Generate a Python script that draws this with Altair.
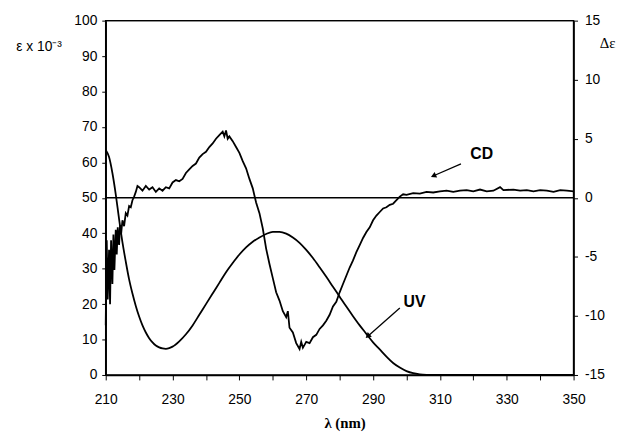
import altair as alt
import pandas as pd

# ---- data ----
uv_nm = [210, 211, 212, 213, 214, 215, 216, 217, 218, 219, 220, 221, 222, 223, 224, 225, 226, 227,
         228, 229, 230, 232, 234, 236, 238, 240, 242, 244, 246, 248, 250, 252, 254, 256, 258, 260,
         262, 264, 266, 268, 270, 272, 274, 276, 278, 280, 282, 284, 286, 288, 290, 292, 294, 296,
         298, 300, 302, 304, 306, 308, 320, 335, 350]
uv_eps = [63.5, 61.5, 57, 51, 44, 37.5, 32, 27, 23, 19.5, 16.5, 14, 12, 10.4, 9.2, 8.3, 7.8, 7.5,
          7.4, 7.6, 8.0, 9.5, 11.5, 14, 17, 20, 23, 26, 29, 31.6, 34, 36, 37.6, 38.8, 39.8, 40.4,
          40.4, 39.9, 38.8, 37.3, 35.3, 33, 30.4, 27.7, 24.9, 22.1, 19.3, 16.6, 14, 11.6, 9.2, 7.2,
          5.2, 3.4, 2.1, 1.1, 0.5, 0.2, 0.05, 0, 0, 0, 0]

cd_nm = [210, 210.3, 210.6, 211, 211.3, 211.6, 212, 212.3, 212.6, 213, 213.3, 213.6, 214, 214.3,
         214.6, 215, 215.5, 216, 216.5, 217, 217.5, 218, 218.5, 219, 219.5, 220, 221, 222, 223,
         224, 225, 226, 227, 228, 229, 230, 231, 232, 233, 234, 235, 236, 237, 238, 239, 240,
         241, 242, 243, 244, 245, 245.5, 246, 246.5, 247, 248, 249, 250, 251, 252, 253, 254,
         254.5, 255, 256, 257, 258, 259, 260, 261, 262, 263, 264, 264.5, 265, 266, 267, 268,
         268.5, 269, 270, 271, 272, 273, 274, 275, 276, 277, 278, 279, 280, 281, 282, 283, 284,
         285, 286, 287, 288, 289, 290, 291, 292, 293, 294, 295, 296, 297, 298, 299, 300, 302,
         304, 306, 308, 310, 312, 314, 316, 318, 320, 322, 324, 326, 328, 329, 332, 334, 336,
         338, 340, 342, 344, 346, 348, 350]
cd_de = [-10.8, -3.6, -8.6, -4.4, -9.0, -3.6, -7.3, -3.1, -6.1, -2.7, -4.8, -2.5, -4.0, -2.3,
         -3.1, -1.9, -2.4, -1.3, -1.5, -0.7, -0.8, -0.2, 0.1, 0.5, 1.0, 0.9, 0.6, 1.0, 0.7,
         0.9, 0.5, 0.8, 0.6, 0.9, 0.8, 1.3, 1.5, 1.4, 1.6, 2.1, 2.4, 2.7, 2.9, 3.4, 3.7, 3.9,
         4.3, 4.6, 5.0, 5.3, 5.6, 5.2, 5.7, 5.0, 5.2, 4.8, 4.3, 3.8, 3.1, 2.5, 1.6, 0.8,
         0.2, -0.4, -1.3, -2.6, -4.3, -5.6, -6.8, -8.0, -8.7, -9.6, -10.1, -9.6, -11.0, -11.4,
         -12.3, -12.8, -12.2, -12.7, -12.2, -12.3, -11.8, -11.6, -11.1, -10.8, -10.4, -9.9, -9.2,
         -8.8, -8.0, -7.3, -6.6, -5.9, -5.3, -4.6, -4.0, -3.4, -2.9, -2.5, -1.9, -1.5, -1.2,
         -0.9, -0.8, -0.6, -0.5, -0.2, 0.1, 0.3, 0.25, 0.4, 0.35, 0.5, 0.45, 0.55, 0.6, 0.5,
         0.6, 0.65, 0.55, 0.7, 0.55, 0.6, 0.9, 0.65, 0.7, 0.6, 0.65, 0.55, 0.65, 0.6, 0.5,
         0.65, 0.6, 0.55]

x_ticks = [210, 220, 230, 240, 250, 260, 270, 280, 290, 300, 310, 320, 330, 340, 350]
left_ticks = [0, 10, 20, 30, 40, 50, 60, 70, 80, 90, 100]
right_ticks = [-15, -10, -5, 0, 5, 10, 15]

label_text = ["CD", "UV"]
label_nm = [322.5, 302.4]
label_eps = [62.4, 20.6]
arrow_tail_nm = [316.3, 298.0]
arrow_tail_eps = [59.6, 18.9]
arrow_tip_nm = [308.3, 288.6]
arrow_tip_eps = [56.3, 11.1]
arrow_angle = [246, 229]

hline_eps = [50, 100]  # CD zero line and top frame

# ---- tables ----
uv_df = pd.DataFrame({"nm": uv_nm, "eps": uv_eps})
cd_df = pd.DataFrame({"nm": cd_nm, "de": cd_de})
lab_df = pd.DataFrame({"t": label_text, "nm": label_nm, "eps": label_eps})
arr_df = pd.DataFrame({"nm": arrow_tail_nm, "eps": arrow_tail_eps,
                       "nm2": arrow_tip_nm, "eps2": arrow_tip_eps, "ang": arrow_angle})
hline_df = pd.DataFrame({"eps": hline_eps})

xscale = alt.Scale(domain=[210, 350], nice=False, zero=False)
lscale = alt.Scale(domain=[0, 100], nice=False, zero=False)
rscale = alt.Scale(domain=[-15, 15], nice=False, zero=False)

SANS = "Liberation Sans"
SERIF = "Liberation Serif"

x_axis = alt.Axis(values=x_ticks, labelExpr="(datum.value - 210) % 20 == 0 ? '' + datum.value : ''",
                  title="λ (nm)", titleFont=SERIF, titleFontWeight="bold", titleFontSize=15,
                  titleX=242, titleY=53, titleBaseline="alphabetic", titleAlign="center",
                  labelFont=SANS, labelFontSize=14, labelColor="black", tickSize=5,
                  labelPadding=13, grid=False, domainColor="black", tickColor="black",
                  domainWidth=1.5, labelFlush=False, labelOverlap=False)

left_axis = alt.Axis(values=left_ticks, labelExpr="'' + datum.value", title="ε x 10⁻³",
                     titleFont=SANS, titleFontSize=14, titleFontWeight="normal", titleAngle=0,
                     titleX=-68, titleY=30, titleAlign="center", titleBaseline="alphabetic",
                     labelFont=SANS, labelFontSize=14, labelColor="black", tickSize=4,
                     labelPadding=5, grid=False, domainColor="black", tickColor="black",
                     domainWidth=1.5, labelFlush=False, labelOverlap=False)

right_axis = alt.Axis(values=right_ticks, labelExpr="'' + datum.value", title="Δε", orient="right",
                      titleFont=SERIF, titleFontSize=15, titleFontWeight="normal", titleAngle=0,
                      titleX=34, titleY=27, titleAlign="center", titleBaseline="alphabetic",
                      labelFont=SANS, labelFontSize=14, labelColor="black", tickSize=4,
                      labelPadding=7, grid=False, domainColor="black", tickColor="black",
                      domainWidth=1.5, labelFlush=False, labelOverlap=False)

X = alt.X("nm:Q", scale=xscale, axis=x_axis)
YL = alt.Y("eps:Q", scale=lscale, axis=left_axis)

uv = alt.Chart(uv_df).mark_line(color="black", strokeWidth=1.8, interpolate="monotone").encode(
    x=X, y=YL)

hlines = alt.Chart(hline_df).mark_rule(color="black", strokeWidth=1.5).encode(y=YL)

labels = alt.Chart(lab_df).mark_text(font=SANS, fontSize=16, fontWeight="bold", color="black",
                                     align="center", baseline="middle").encode(
    x=X, y=YL, text="t:N")

arrows = alt.Chart(arr_df).mark_rule(color="black", strokeWidth=1.3).encode(
    x=X, y=YL, x2="nm2:Q", y2="eps2:Q")

heads = alt.Chart(arr_df).mark_point(shape="triangle", filled=True, color="black", size=40,
                                     opacity=1).encode(
    x=alt.X("nm2:Q", scale=xscale, axis=x_axis), y=alt.Y("eps2:Q", scale=lscale, axis=left_axis),
    angle=alt.Angle("ang:Q", scale=None))

cd = alt.Chart(cd_df).mark_line(color="black", strokeWidth=1.8).encode(
    x=X,
    y=alt.Y("de:Q", scale=rscale, axis=right_axis),
)

left_layer = alt.layer(uv, hlines, arrows, heads, labels)

chart = alt.layer(left_layer, cd).resolve_scale(y="independent").properties(
    width=474, height=359,
    autosize=alt.AutoSizeParams(type="none"),
    padding={"left": 99, "top": 10, "right": 45, "bottom": 58},
    background="white",
).configure_view(stroke="black", strokeWidth=1.5)

chart.save("out.html", embed_options={"renderer": "svg", "actions": False})
